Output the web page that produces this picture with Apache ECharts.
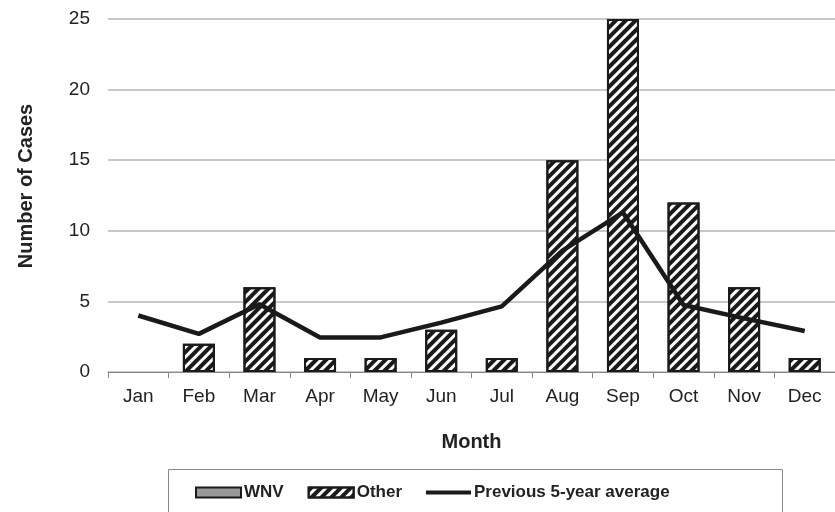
<!DOCTYPE html>
<html>
<head>
<meta charset="utf-8">
<script src="https://cdn.jsdelivr.net/npm/echarts@6/dist/echarts.min.js"></script>
<style>html,body{margin:0;padding:0;background:#fff}#c{width:835px;height:512px}</style>
</head>
<body>
<div id="c"></div>
<script>
var months = ['Jan','Feb','Mar','Apr','May','Jun','Jul','Aug','Sep','Oct','Nov','Dec'];
var wnv = [0,0,0,0,0,0,0,0,0,0,0,0];
var other = [0,2,6,1,1,3,1,15,25,12,6,1];
var prev5yr = [4.0,2.7,4.8,2.45,2.45,3.5,4.65,8.6,11.3,4.75,3.8,2.9];
var yTicks = [0,5,10,15,20,25];

var FONT = '"Liberation Sans", Arial, Helvetica, sans-serif';
var TXT = '#222';
var hatch = {
  symbol: 'rect', symbolSize: 1,
  dashArrayX: [1, 0], dashArrayY: [3.4, 2.4],
  rotation: -Math.PI / 4, color: '#1a1a1a'
};
function nz(a){ return a.map(function(v){ return v === 0 ? null : v; }); }

var chart = echarts.init(document.getElementById('c'));
chart.setOption({
  animation: false,
  textStyle: { fontFamily: FONT },
  grid: { left: 108, top: 19, width: 729, height: 353 },
  graphic: [
    { type: 'rect', shape: { x: 168.5, y: 469.5, width: 614, height: 60 },
      style: { fill: 'none', stroke: '#888', lineWidth: 1 }, z: 1 },
    { type: 'text', x: 26, y: 186, rotation: Math.PI / 2,
      style: { text: 'Number of Cases', fontFamily: FONT, fontWeight: 'bold', fontSize: 20,
               fill: TXT, align: 'center', verticalAlign: 'middle' } }
  ],
  legend: {
    left: 190, top: 479, itemWidth: 45, itemHeight: 10, itemGap: 24,
    symbolKeepAspect: true,
    textStyle: { fontFamily: FONT, fontWeight: 'bold', fontSize: 17, color: TXT, padding: [0,0,0,-2] },
    data: [
      { name: 'WNV', icon: 'rect' },
      { name: 'Other', icon: 'rect' },
      { name: 'Previous 5-year average', icon: 'path://M0,0L45,0L45,4L0,4Z' }
    ]
  },
  xAxis: {
    type: 'category', data: months,
    name: 'Month', nameLocation: 'middle', nameGap: 60,
    nameTextStyle: { fontFamily: FONT, fontWeight: 'bold', fontSize: 20, color: TXT },
    axisLine: { lineStyle: { color: '#888', width: 1 } },
    axisTick: { show: true, length: 6, lineStyle: { color: '#888' } },
    axisLabel: { fontFamily: FONT, fontSize: 19, color: TXT, margin: 15 }
  },
  yAxis: {
    type: 'value', min: 0, max: 25, interval: 5,
    axisLine: { show: false }, axisTick: { show: false },
    axisLabel: { fontFamily: FONT, fontSize: 19, color: TXT, margin: 18,
      formatter: function(v){ return yTicks.indexOf(v) >= 0 ? String(v) : ''; } },
    splitLine: { lineStyle: { color: '#c8c8c8', width: 2 } }
  },
  series: [
    { name: 'WNV', type: 'bar', data: nz(wnv), barWidth: 32, barGap: '-100%',
      itemStyle: { color: '#999', borderColor: '#1a1a1a', borderWidth: 1.5 } },
    { name: 'Other', type: 'bar', data: nz(other), barWidth: 32,
      itemStyle: { color: '#fff', borderColor: '#1a1a1a', borderWidth: 2, decal: hatch } },
    { name: 'Previous 5-year average', type: 'line', data: prev5yr,
      symbol: 'none', showSymbol: false, z: 5,
      lineStyle: { color: '#1a1a1a', width: 4.5 }, itemStyle: { color: '#1a1a1a' } }
  ]
});
</script>
</body>
</html>
